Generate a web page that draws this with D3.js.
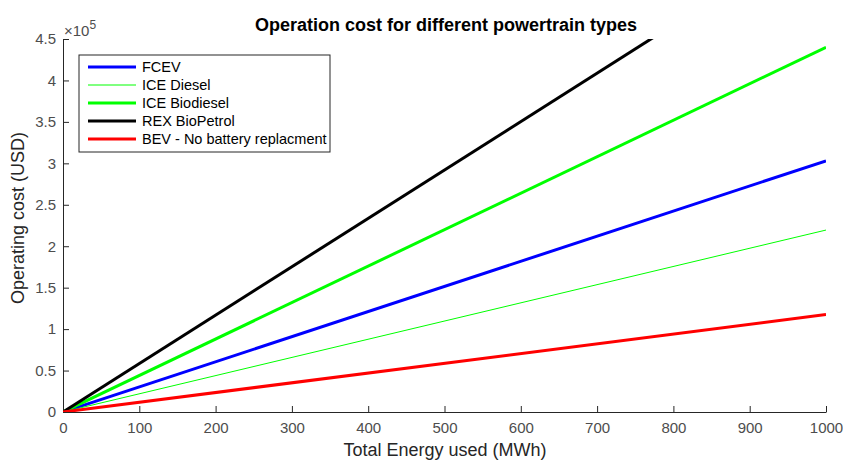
<!DOCTYPE html>
<html>
<head>
<meta charset="utf-8">
<script src="https://cdn.jsdelivr.net/npm/d3@7"></script>
<style>
  body { margin: 0; background: #fff; }
  svg text { font-family: "Liberation Sans", Arial, sans-serif; }
</style>
</head>
<body>
<svg id="chart" width="843" height="461"></svg>
<script>
// Data (energy in MWh, cost in USD)
const energy = [0, 1000];
const seriesNames = ["FCEV", "ICE Diesel", "ICE Biodiesel", "REX BioPetrol", "BEV - No battery replacment"];
const fcevCost = [0, 303000];
const iceDieselCost = [0, 219500];
const iceBiodieselCost = [0, 440000];
const rexBioPetrolCost = [0, 584000];
const bevCost = [0, 117500];
const seriesColors = ["#0000ff", "#00ff00", "#00ff00", "#000000", "#ff0000"];
const seriesWidths = [3, 1, 3, 3, 3];
const xTicks = [0, 100, 200, 300, 400, 500, 600, 700, 800, 900, 1000];
const yTicks = [0, 0.5, 1, 1.5, 2, 2.5, 3, 3.5, 4, 4.5];

const allSeries = [fcevCost, iceDieselCost, iceBiodieselCost, rexBioPetrolCost, bevCost];

const svg = d3.select("#chart");
const plotLeft = 63, plotRight = 826, plotTop = 39, plotBottom = 412;

const x = d3.scaleLinear().domain([0, 1000]).range([plotLeft, plotRight]);
const y = d3.scaleLinear().domain([0, 450000]).range([plotBottom, plotTop]);

// clip to axes area
svg.append("clipPath").attr("id", "plotClip")
  .append("rect")
  .attr("x", plotLeft).attr("y", plotTop)
  .attr("width", plotRight - plotLeft).attr("height", plotBottom - plotTop);

const line = d3.line()
  .x((d, i) => x(energy[i]))
  .y(d => y(d));

// Axes
const xAxis = svg.append("g")
  .attr("transform", `translate(0,${plotBottom})`)
  .call(d3.axisBottom(x).tickValues(xTicks).tickFormat(d3.format("d")).tickSizeInner(-6).tickSizeOuter(0).tickPadding(10));
const yAxis = svg.append("g")
  .attr("transform", `translate(${plotLeft},0)`)
  .call(d3.axisLeft(y).tickValues(yTicks.map(v => v * 1e5)).tickFormat((d, i) => yTicks[i]).tickSizeInner(-6).tickSizeOuter(0).tickPadding(7));

[xAxis, yAxis].forEach(a => {
  a.select(".domain").attr("stroke", "#262626").attr("stroke-width", 1);
  a.selectAll(".tick line").attr("stroke", "#262626");
  a.selectAll(".tick text").attr("fill", "#4d4d4d").style("font-size", "15px");
});

// Series lines
const plot = svg.append("g").attr("clip-path", "url(#plotClip)");
allSeries.forEach((s, i) => {
  plot.append("path")
    .datum(s)
    .attr("d", line)
    .attr("fill", "none")
    .attr("stroke", seriesColors[i])
    .attr("stroke-width", seriesWidths[i]);
});

// Exponent label
const expLabel = svg.append("text")
  .attr("x", 64).attr("y", 36)
  .attr("fill", "#4d4d4d")
  .style("font-size", "15px");
expLabel.append("tspan").text("\u00d710");
expLabel.append("tspan").attr("dy", -7).style("font-size", "12px").text("5");

// Title
svg.append("text")
  .attr("x", 446).attr("y", 31)
  .attr("text-anchor", "middle")
  .style("font-size", "18px")
  .style("font-weight", "bold")
  .attr("fill", "#000")
  .text("Operation cost for different powertrain types");

// Axis labels
svg.append("text")
  .attr("x", 445).attr("y", 456)
  .attr("text-anchor", "middle")
  .attr("fill", "#262626")
  .style("font-size", "18px")
  .text("Total Energy used (MWh)");

svg.append("text")
  .attr("transform", `translate(24,218) rotate(-90)`)
  .attr("text-anchor", "middle")
  .attr("fill", "#262626")
  .style("font-size", "18px")
  .text("Operating cost (USD)");

// Legend
const legend = svg.append("g").attr("transform", "translate(79,55)");
legend.append("rect")
  .attr("width", 251).attr("height", 97)
  .attr("fill", "#fff")
  .attr("stroke", "#262626")
  .attr("stroke-width", 1);

const items = legend.selectAll(".legend-item")
  .data(seriesNames)
  .enter().append("g")
  .attr("class", "legend-item")
  .attr("transform", (d, i) => `translate(0,${12 + i * 18})`);

items.append("line")
  .attr("x1", 9).attr("x2", 57)
  .attr("stroke", (d, i) => seriesColors[i])
  .attr("stroke-width", (d, i) => seriesWidths[i]);

items.append("text")
  .attr("x", 63).attr("dy", "0.35em")
  .attr("fill", "#000")
  .style("font-size", "14.5px")
  .text(d => d);
</script>
</body>
</html>
